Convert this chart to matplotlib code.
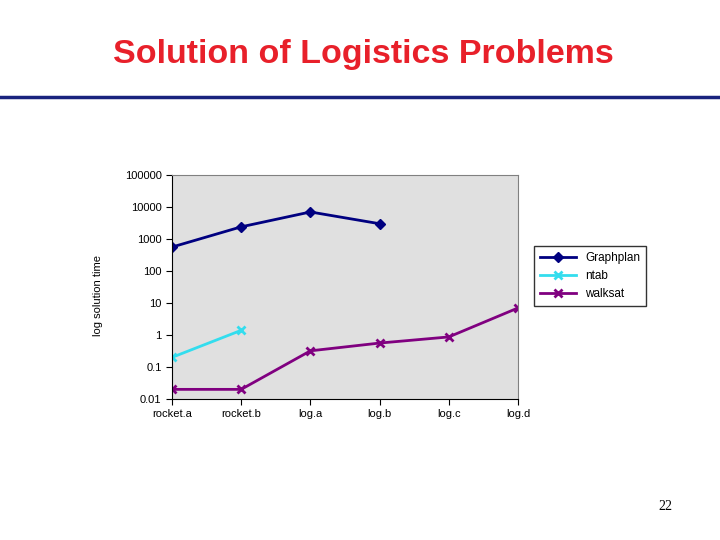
import matplotlib
matplotlib.use("Agg")
import matplotlib.pyplot as plt
from matplotlib.lines import Line2D
import numpy as np

categories = ["rocket.a", "rocket.b", "log.a", "log.b", "log.c", "log.d"]
graphplan = [560, 2400, 7000, 3000, None, None]
ntab = [0.2, 1.4, None, None, None, None]
walksat = [0.02, 0.02, 0.32, 0.56, 0.87, 7]
ytick_vals = [0.01, 0.1, 1, 10, 100, 1000, 10000, 100000]
ytick_labels = ["0.01", "0.1", "1", "10", "100", "1000", "10000", "100000"]

def arr(v):
    return np.array([np.nan if x is None else x for x in v], dtype=float)

fig = plt.figure(figsize=(7.2, 5.4), dpi=100)
fig.patch.set_facecolor("white")
fig.text(0.505, 1 - 55/540, "Solution of Logistics Problems", ha="center", va="center",
         color="#e8202a", fontsize=24.5, fontweight="bold", family="Liberation Sans")
fig.add_artist(Line2D([0, 1], [1 - 97/540, 1 - 97/540], color="#1a237e", lw=2.5))
fig.text(672/720, 1 - 507/540, "22", ha="right", va="center", fontsize=10, family="Liberation Serif")

ax = fig.add_axes([172/720, 1 - 399/540, 346/720, 224/540])
ax.set_facecolor("#e0e0e0")
x = np.arange(len(categories))
ax.plot(x, arr(graphplan), color="#000080", marker="D", ms=5, lw=2, label="Graphplan")
ax.plot(x, arr(ntab), color="#33ddee", marker="x", ms=6, mew=2, lw=2, label="ntab")
ax.plot(x, arr(walksat), color="#800080", marker="x", ms=6, mew=2, lw=2, label="walksat")
ax.set_yscale("log")
ax.set_ylim(0.01, 100000)
ax.set_xlim(0, len(categories) - 1)
ax.set_yticks(ytick_vals)
ax.set_yticklabels(ytick_labels)
ax.yaxis.set_minor_locator(matplotlib.ticker.NullLocator())
ax.set_xticks(x)
ax.set_xticklabels(categories)
ax.tick_params(labelsize=8, direction="out", length=4)
for lab in ax.get_xticklabels() + ax.get_yticklabels():
    lab.set_family("Liberation Sans")
for s in ["top", "right"]:
    ax.spines[s].set_color("#808080")
ax.set_ylabel("log solution time", fontsize=8, family="Liberation Sans")
ax.yaxis.set_label_coords(-0.2, 0.46)
leg = ax.legend(loc="center left", bbox_to_anchor=(1.03, 0.55), fontsize=8.5,
                frameon=True, fancybox=False, edgecolor="black", borderpad=0.5,
                handlelength=3, labelspacing=0.5)
for t in leg.get_texts():
    t.set_family("Liberation Sans")
fig.savefig("out.png", dpi=100)
